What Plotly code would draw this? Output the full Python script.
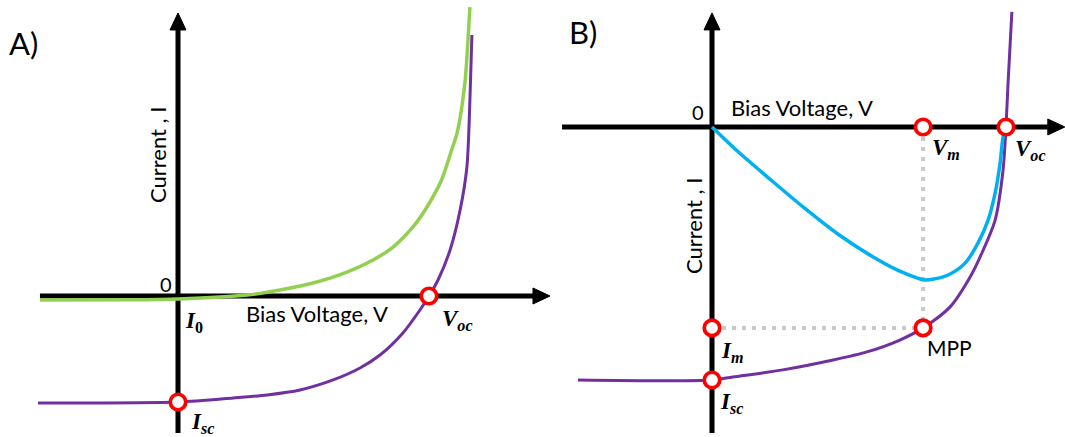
import plotly.graph_objects as go

W, H = 1065, 437

# ---------- Panel A: dark vs. illuminated I-V (normalised: Voc = 1, Isc = -1) ----------
va_dark = [-0.55, -0.2, 0.0, 0.275, 0.406, 0.538, 0.673, 0.777, 0.857, 0.936, 0.992,
           1.05, 1.09, 1.112, 1.143, 1.157, 1.163]
ia_dark = [-0.038, -0.036, -0.028, 0.009, 0.057, 0.123, 0.226, 0.340, 0.462, 0.651, 0.840,
           1.094, 1.377, 1.538, 2.009, 2.481, 2.726]

va_light = [-0.558, 0.0, 0.22, 0.355, 0.486, 0.618, 0.725, 0.805, 0.896, 0.964, 1.0,
            1.036, 1.084, 1.124, 1.151, 1.163, 1.171]
ia_light = [-1.009, -1.0, -0.962, -0.934, -0.887, -0.792, -0.679, -0.557, -0.349, -0.132, 0.0,
            0.151, 0.434, 0.811, 1.217, 1.849, 2.462]

a_points_v = [1.0, 0.0]          # Voc, Isc
a_points_i = [0.0, -1.0]

# ---------- Panel B: illuminated I-V and power curve ----------
vb_light = [-0.456, 0.0, 0.071, 0.241, 0.412, 0.527, 0.639, 0.718, 0.810, 0.878, 0.918,
            0.963, 0.990, 1.0, 1.007, 1.02]
ib_light = [-1.0, -1.0, -0.988, -0.960, -0.921, -0.889, -0.842, -0.794, -0.711, -0.593, -0.498,
            -0.368, -0.170, 0.0, 0.174, 0.455]

vb_power = [0.0, 0.088, 0.204, 0.316, 0.429, 0.544, 0.633, 0.701, 0.724, 0.755, 0.803,
            0.861, 0.905, 0.939, 0.963, 0.980, 0.990, 1.0]
pb_power = [0.0, -0.097, -0.213, -0.322, -0.424, -0.511, -0.567, -0.598, -0.605, -0.601, -0.585,
            -0.538, -0.458, -0.368, -0.261, -0.142, -0.040, 0.0]

V_M, I_M = 0.718, -0.794
V_OC, I_SC = 1.0, -1.0

# axis extents (data units) for the drawn black axes
a_xaxis = [-0.55, 1.482]
a_yaxis = [-1.292, 2.67]
b_xaxis = [-0.51, 1.20]
b_yaxis = [-1.209, 0.451]

# ---------- geometry of each panel (pixels) ----------
SPLIT = 556
A_GEOM = dict(ox=178, oy=296, sx=251, sy=106, x0=0, x1=SPLIT)
B_GEOM = dict(ox=712, oy=127, sx=294, sy=253, x0=SPLIT, x1=W)

PURPLE = "#7030a0"
GREEN = "#92d050"
BLUE = "#00b0f0"
RED = "#ff0000"
GRAY = "#c9c9c9"
TXT_FONT = "Lato"
MATH_FONT = "Liberation Serif"

fig = go.Figure()


def axis_range(g):
    xr = [(g["x0"] - g["ox"]) / g["sx"], (g["x1"] - g["ox"]) / g["sx"]]
    yr = [(g["oy"] - H) / g["sy"], g["oy"] / g["sy"]]
    return xr, yr


def add_axes(g, xa, ya, xref, yref):
    head_len, head_half = 17, 8
    dxh, dyh = head_len / g["sx"], head_half / g["sy"]
    dyv, dxv = head_len / g["sy"], head_half / g["sx"]
    # horizontal axis
    fig.add_trace(go.Scatter(x=[xa[0], xa[1] - dxh], y=[0, 0], mode="lines",
                             line=dict(color="black", width=5), xaxis=xref, yaxis=yref,
                             hoverinfo="skip"))
    fig.add_trace(go.Scatter(x=[xa[1] - dxh, xa[1], xa[1] - dxh, xa[1] - dxh],
                             y=[dyh, 0, -dyh, dyh], mode="lines", fill="toself",
                             fillcolor="black", line=dict(color="black", width=1),
                             xaxis=xref, yaxis=yref, hoverinfo="skip"))
    # vertical axis
    fig.add_trace(go.Scatter(x=[0, 0], y=[ya[0], ya[1] - dyv], mode="lines",
                             line=dict(color="black", width=5), xaxis=xref, yaxis=yref,
                             hoverinfo="skip"))
    fig.add_trace(go.Scatter(x=[-dxv, 0, dxv, -dxv],
                             y=[ya[1] - dyv, ya[1], ya[1] - dyv, ya[1] - dyv],
                             mode="lines", fill="toself", fillcolor="black",
                             line=dict(color="black", width=1),
                             xaxis=xref, yaxis=yref, hoverinfo="skip"))


def curve(x, y, color, width, xref, yref):
    fig.add_trace(go.Scatter(x=x, y=y, mode="lines",
                             line=dict(color=color, width=width, shape="spline", smoothing=0.8),
                             xaxis=xref, yaxis=yref, hoverinfo="skip"))


def rings(x, y, xref, yref):
    fig.add_trace(go.Scatter(x=x, y=y, mode="markers",
                             marker=dict(size=15.5, color="white", line=dict(color=RED, width=3.7)),
                             xaxis=xref, yaxis=yref, hoverinfo="skip", cliponaxis=False))


# Panel A
add_axes(A_GEOM, a_xaxis, a_yaxis, "x", "y")
curve(va_light, ia_light, PURPLE, 3, "x", "y")
curve(va_dark, ia_dark, GREEN, 3.5, "x", "y")
rings(a_points_v, a_points_i, "x", "y")

# Panel B
add_axes(B_GEOM, b_xaxis, b_yaxis, "x2", "y2")
fig.add_trace(go.Scatter(x=[V_M, V_M], y=[0, I_M], mode="lines",
                         line=dict(color=GRAY, width=4, dash="4px,6px"),
                         xaxis="x2", yaxis="y2", hoverinfo="skip"))
fig.add_trace(go.Scatter(x=[0, V_M], y=[I_M, I_M], mode="lines",
                         line=dict(color=GRAY, width=4, dash="4px,6px"),
                         xaxis="x2", yaxis="y2", hoverinfo="skip"))
curve(vb_light, ib_light, PURPLE, 3, "x2", "y2")
curve(vb_power, pb_power, BLUE, 3.5, "x2", "y2")
rings([V_M, V_OC, 0, 0, V_M], [0, 0, I_M, I_SC, I_M], "x2", "y2")

# ---------- text ----------
ann = []


def text_at(xref, yref, x, y, text, dx, dy, size, family=TXT_FONT, xanchor="left", angle=0):
    ann.append(dict(xref=xref, yref=yref, x=x, y=y, text=text, showarrow=False,
                    xanchor=xanchor, yanchor="middle", xshift=dx, yshift=dy,
                    textangle=angle, font=dict(family=family, size=size, color="black")))


def paper_text(px, py, text, size, xanchor="left", angle=0):
    ann.append(dict(xref="paper", yref="paper", x=px / W, y=1 - py / H, text=text,
                    showarrow=False, xanchor=xanchor, yanchor="middle", textangle=angle,
                    font=dict(family=TXT_FONT, size=size, color="black")))


def math(sym, sub, upright_sub=False):
    s = sub if upright_sub else "<i>" + sub + "</i>"
    return "<b><i>" + sym + "</i><sub>" + s + "</sub></b>"


MS = 23
# Panel A labels
paper_text(7, 43, "A)", 31)
text_at("x", "y", 0, 0, "0", -4, 12, 20, xanchor="right")
paper_text(157, 155, "Current , I", 22, xanchor="center", angle=-90)
paper_text(244, 313, "Bias Voltage, V", 22)
text_at("x", "y", 0, 0, math("I", "0", True), 5, -26, MS, family=MATH_FONT)
text_at("x", "y", 0, -1, math("I", "sc"), 11, -21, MS, family=MATH_FONT)
text_at("x", "y", 1, 0, math("V", "oc"), 11, -24, MS, family=MATH_FONT)

# Panel B labels
paper_text(567, 32, "B)", 31)
text_at("x2", "y2", 0, 0, "0", -6, 15, 20, xanchor="right")
paper_text(729, 108, "Bias Voltage, V", 22)
paper_text(693, 226, "Current , I", 22, xanchor="center", angle=-90)
text_at("x2", "y2", V_M, 0, math("V", "m"), 7, -22, MS, family=MATH_FONT)
text_at("x2", "y2", V_OC, 0, math("V", "oc"), 7, -23, MS, family=MATH_FONT)
text_at("x2", "y2", 0, I_M, math("I", "m"), 7, -24, MS, family=MATH_FONT)
text_at("x2", "y2", 0, I_SC, math("I", "sc"), 6, -23, MS, family=MATH_FONT)
text_at("x2", "y2", V_M, I_M, "MPP", 2, -20, 21)

axr_a = axis_range(A_GEOM)
axr_b = axis_range(B_GEOM)
hidden = dict(visible=False, showgrid=False, zeroline=False, fixedrange=True)

fig.update_layout(
    width=W, height=H,
    margin=dict(l=0, r=0, t=0, b=0),
    paper_bgcolor="white", plot_bgcolor="white",
    showlegend=False,
    xaxis=dict(domain=[0, SPLIT / W], range=axr_a[0], **hidden),
    yaxis=dict(domain=[0, 1], range=axr_a[1], **hidden),
    xaxis2=dict(domain=[SPLIT / W, 1], range=axr_b[0], anchor="y2", **hidden),
    yaxis2=dict(domain=[0, 1], range=axr_b[1], anchor="x2", **hidden),
    annotations=ann,
)

fig.write_html("out.html")
